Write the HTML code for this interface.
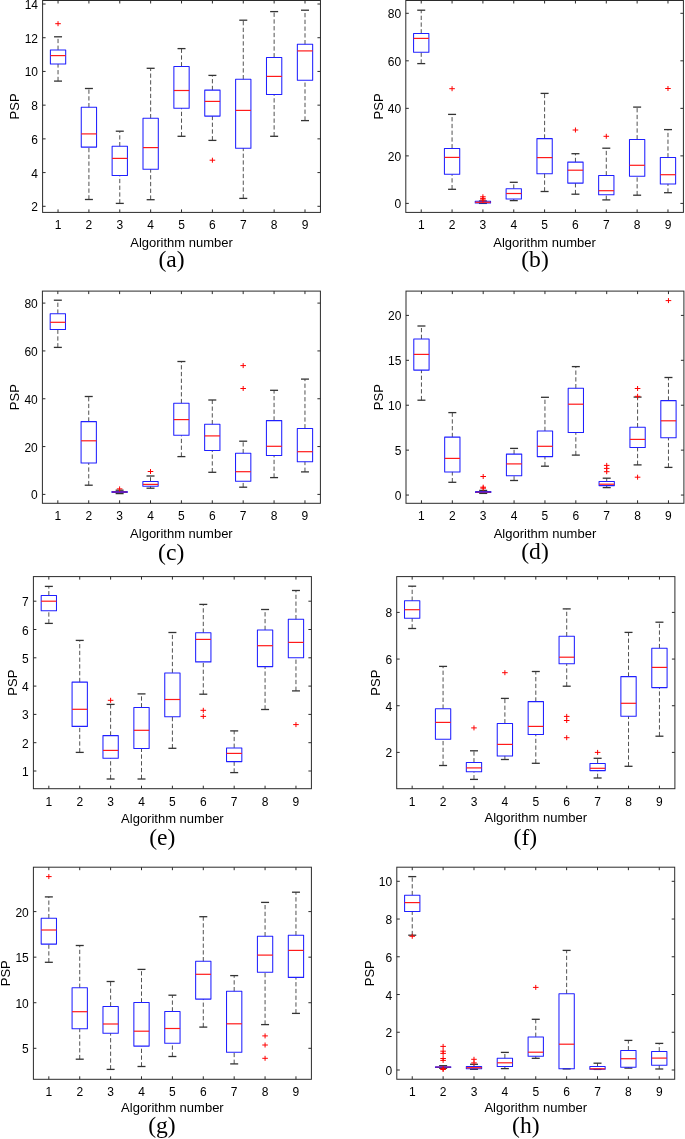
<!DOCTYPE html><html><head><meta charset="utf-8"><style>html,body{margin:0;padding:0;background:#fff;}svg{display:block;will-change:transform;}.t{font-family:"Liberation Sans",sans-serif;fill:#000;}.c{font-family:"Liberation Serif",serif;fill:#000;}</style></head><body>
<svg width="685" height="1139" viewBox="0 0 685 1139">
<rect x="0" y="0" width="685" height="1139" fill="#fff"/>
<g><line x1="58.04" y1="49.9" x2="58.04" y2="36.8" stroke="#525252" stroke-width="1.0" stroke-dasharray="4.3 2.45"/><line x1="58.04" y1="81.1" x2="58.04" y2="64" stroke="#525252" stroke-width="1.0" stroke-dasharray="4.3 2.45"/><line x1="54.04" y1="36.8" x2="62.04" y2="36.8" stroke="#333333" stroke-width="1.3"/><line x1="54.04" y1="81.1" x2="62.04" y2="81.1" stroke="#333333" stroke-width="1.3"/><rect x="50.39" y="49.9" width="15.3" height="14.1" fill="none" stroke="#2020ff" stroke-width="1.05" stroke-linejoin="round"/><line x1="50.39" y1="55.6" x2="65.69" y2="55.6" stroke="#ff1a1a" stroke-width="1.2"/><path d="M55.24 23.7H60.84M58.04 21.2V26.2" stroke="#ff0000" stroke-width="1.0"/><line x1="88.91" y1="107.3" x2="88.91" y2="88.5" stroke="#525252" stroke-width="1.0" stroke-dasharray="4.3 2.45"/><line x1="88.91" y1="199.5" x2="88.91" y2="147.1" stroke="#525252" stroke-width="1.0" stroke-dasharray="4.3 2.45"/><line x1="84.91" y1="88.5" x2="92.91" y2="88.5" stroke="#333333" stroke-width="1.3"/><line x1="84.91" y1="199.5" x2="92.91" y2="199.5" stroke="#333333" stroke-width="1.3"/><rect x="81.26" y="107.3" width="15.3" height="39.8" fill="none" stroke="#2020ff" stroke-width="1.05" stroke-linejoin="round"/><line x1="81.26" y1="133.9" x2="96.56" y2="133.9" stroke="#ff1a1a" stroke-width="1.2"/><line x1="119.78" y1="146.3" x2="119.78" y2="131.2" stroke="#525252" stroke-width="1.0" stroke-dasharray="4.3 2.45"/><line x1="119.78" y1="203.4" x2="119.78" y2="175.4" stroke="#525252" stroke-width="1.0" stroke-dasharray="4.3 2.45"/><line x1="115.78" y1="131.2" x2="123.78" y2="131.2" stroke="#333333" stroke-width="1.3"/><line x1="115.78" y1="203.4" x2="123.78" y2="203.4" stroke="#333333" stroke-width="1.3"/><rect x="112.13" y="146.3" width="15.3" height="29.1" fill="none" stroke="#2020ff" stroke-width="1.05" stroke-linejoin="round"/><line x1="112.13" y1="158.4" x2="127.43" y2="158.4" stroke="#ff1a1a" stroke-width="1.2"/><line x1="150.65" y1="118.3" x2="150.65" y2="68.3" stroke="#525252" stroke-width="1.0" stroke-dasharray="4.3 2.45"/><line x1="150.65" y1="199.7" x2="150.65" y2="169.2" stroke="#525252" stroke-width="1.0" stroke-dasharray="4.3 2.45"/><line x1="146.65" y1="68.3" x2="154.65" y2="68.3" stroke="#333333" stroke-width="1.3"/><line x1="146.65" y1="199.7" x2="154.65" y2="199.7" stroke="#333333" stroke-width="1.3"/><rect x="143" y="118.3" width="15.3" height="50.9" fill="none" stroke="#2020ff" stroke-width="1.05" stroke-linejoin="round"/><line x1="143" y1="147.6" x2="158.3" y2="147.6" stroke="#ff1a1a" stroke-width="1.2"/><line x1="181.52" y1="66.4" x2="181.52" y2="48.6" stroke="#525252" stroke-width="1.0" stroke-dasharray="4.3 2.45"/><line x1="181.52" y1="136.3" x2="181.52" y2="108.3" stroke="#525252" stroke-width="1.0" stroke-dasharray="4.3 2.45"/><line x1="177.52" y1="48.6" x2="185.52" y2="48.6" stroke="#333333" stroke-width="1.3"/><line x1="177.52" y1="136.3" x2="185.52" y2="136.3" stroke="#333333" stroke-width="1.3"/><rect x="173.87" y="66.4" width="15.3" height="41.9" fill="none" stroke="#2020ff" stroke-width="1.05" stroke-linejoin="round"/><line x1="173.87" y1="90.5" x2="189.17" y2="90.5" stroke="#ff1a1a" stroke-width="1.2"/><line x1="212.4" y1="90.1" x2="212.4" y2="75.4" stroke="#525252" stroke-width="1.0" stroke-dasharray="4.3 2.45"/><line x1="212.4" y1="140.4" x2="212.4" y2="116.1" stroke="#525252" stroke-width="1.0" stroke-dasharray="4.3 2.45"/><line x1="208.4" y1="75.4" x2="216.4" y2="75.4" stroke="#333333" stroke-width="1.3"/><line x1="208.4" y1="140.4" x2="216.4" y2="140.4" stroke="#333333" stroke-width="1.3"/><rect x="204.75" y="90.1" width="15.3" height="26" fill="none" stroke="#2020ff" stroke-width="1.05" stroke-linejoin="round"/><line x1="204.75" y1="101.4" x2="220.05" y2="101.4" stroke="#ff1a1a" stroke-width="1.2"/><path d="M209.6 160.2H215.2M212.4 157.7V162.7" stroke="#ff0000" stroke-width="1.0"/><line x1="243.27" y1="79.3" x2="243.27" y2="20.2" stroke="#525252" stroke-width="1.0" stroke-dasharray="4.3 2.45"/><line x1="243.27" y1="198.4" x2="243.27" y2="148.2" stroke="#525252" stroke-width="1.0" stroke-dasharray="4.3 2.45"/><line x1="239.27" y1="20.2" x2="247.27" y2="20.2" stroke="#333333" stroke-width="1.3"/><line x1="239.27" y1="198.4" x2="247.27" y2="198.4" stroke="#333333" stroke-width="1.3"/><rect x="235.62" y="79.3" width="15.3" height="68.9" fill="none" stroke="#2020ff" stroke-width="1.05" stroke-linejoin="round"/><line x1="235.62" y1="110.4" x2="250.92" y2="110.4" stroke="#ff1a1a" stroke-width="1.2"/><line x1="274.14" y1="57.4" x2="274.14" y2="11.6" stroke="#525252" stroke-width="1.0" stroke-dasharray="4.3 2.45"/><line x1="274.14" y1="136.3" x2="274.14" y2="94.4" stroke="#525252" stroke-width="1.0" stroke-dasharray="4.3 2.45"/><line x1="270.14" y1="11.6" x2="278.14" y2="11.6" stroke="#333333" stroke-width="1.3"/><line x1="270.14" y1="136.3" x2="278.14" y2="136.3" stroke="#333333" stroke-width="1.3"/><rect x="266.49" y="57.4" width="15.3" height="37" fill="none" stroke="#2020ff" stroke-width="1.05" stroke-linejoin="round"/><line x1="266.49" y1="76.4" x2="281.79" y2="76.4" stroke="#ff1a1a" stroke-width="1.2"/><line x1="305.01" y1="44.3" x2="305.01" y2="10.2" stroke="#525252" stroke-width="1.0" stroke-dasharray="4.3 2.45"/><line x1="305.01" y1="120.6" x2="305.01" y2="80.3" stroke="#525252" stroke-width="1.0" stroke-dasharray="4.3 2.45"/><line x1="301.01" y1="10.2" x2="309.01" y2="10.2" stroke="#333333" stroke-width="1.3"/><line x1="301.01" y1="120.6" x2="309.01" y2="120.6" stroke="#333333" stroke-width="1.3"/><rect x="297.36" y="44.3" width="15.3" height="36" fill="none" stroke="#2020ff" stroke-width="1.05" stroke-linejoin="round"/><line x1="297.36" y1="50.9" x2="312.66" y2="50.9" stroke="#ff1a1a" stroke-width="1.2"/><rect x="42.6" y="0.5" width="277.85" height="211.9" fill="none" stroke="#2b2b2b" stroke-width="1.0"/><path d="M58.04 212.4v-3.0M58.04 0.5v3.0M88.91 212.4v-3.0M88.91 0.5v3.0M119.78 212.4v-3.0M119.78 0.5v3.0M150.65 212.4v-3.0M150.65 0.5v3.0M181.52 212.4v-3.0M181.52 0.5v3.0M212.4 212.4v-3.0M212.4 0.5v3.0M243.27 212.4v-3.0M243.27 0.5v3.0M274.14 212.4v-3.0M274.14 0.5v3.0M305.01 212.4v-3.0M305.01 0.5v3.0M42.6 206.3h3.0M320.45 206.3h-3.0M42.6 172.58h3.0M320.45 172.58h-3.0M42.6 138.87h3.0M320.45 138.87h-3.0M42.6 105.15h3.0M320.45 105.15h-3.0M42.6 71.43h3.0M320.45 71.43h-3.0M42.6 37.72h3.0M320.45 37.72h-3.0M42.6 4h3.0M320.45 4h-3.0" stroke="#2b2b2b" stroke-width="1.0" fill="none"/><text class="t" x="58.04" y="229.3" font-size="12" text-anchor="middle">1</text><text class="t" x="88.91" y="229.3" font-size="12" text-anchor="middle">2</text><text class="t" x="119.78" y="229.3" font-size="12" text-anchor="middle">3</text><text class="t" x="150.65" y="229.3" font-size="12" text-anchor="middle">4</text><text class="t" x="181.52" y="229.3" font-size="12" text-anchor="middle">5</text><text class="t" x="212.4" y="229.3" font-size="12" text-anchor="middle">6</text><text class="t" x="243.27" y="229.3" font-size="12" text-anchor="middle">7</text><text class="t" x="274.14" y="229.3" font-size="12" text-anchor="middle">8</text><text class="t" x="305.01" y="229.3" font-size="12" text-anchor="middle">9</text><text class="t" x="38" y="211.3" font-size="12" text-anchor="end">2</text><text class="t" x="38" y="177.58" font-size="12" text-anchor="end">4</text><text class="t" x="38" y="143.87" font-size="12" text-anchor="end">6</text><text class="t" x="38" y="110.15" font-size="12" text-anchor="end">8</text><text class="t" x="38" y="76.43" font-size="12" text-anchor="end">10</text><text class="t" x="38" y="42.72" font-size="12" text-anchor="end">12</text><text class="t" x="38" y="9" font-size="12" text-anchor="end">14</text><text class="t" x="181.53" y="246.6" font-size="13" text-anchor="middle">Algorithm number</text><text class="t" transform="translate(19.1 106.45) rotate(-90)" x="0" y="0" font-size="13" text-anchor="middle">PSP</text><text class="c" x="171.5" y="267.34" font-size="23.6" text-anchor="middle">(a)</text></g>
<g><line x1="421.22" y1="33.5" x2="421.22" y2="10.2" stroke="#525252" stroke-width="1.0" stroke-dasharray="4.3 2.45"/><line x1="421.22" y1="63.6" x2="421.22" y2="52.3" stroke="#525252" stroke-width="1.0" stroke-dasharray="4.3 2.45"/><line x1="417.22" y1="10.2" x2="425.22" y2="10.2" stroke="#333333" stroke-width="1.3"/><line x1="417.22" y1="63.6" x2="425.22" y2="63.6" stroke="#333333" stroke-width="1.3"/><rect x="413.57" y="33.5" width="15.3" height="18.8" fill="none" stroke="#2020ff" stroke-width="1.05" stroke-linejoin="round"/><line x1="413.57" y1="38.4" x2="428.87" y2="38.4" stroke="#ff1a1a" stroke-width="1.2"/><line x1="452.07" y1="148.4" x2="452.07" y2="114.4" stroke="#525252" stroke-width="1.0" stroke-dasharray="4.3 2.45"/><line x1="452.07" y1="189.3" x2="452.07" y2="174.3" stroke="#525252" stroke-width="1.0" stroke-dasharray="4.3 2.45"/><line x1="448.07" y1="114.4" x2="456.07" y2="114.4" stroke="#333333" stroke-width="1.3"/><line x1="448.07" y1="189.3" x2="456.07" y2="189.3" stroke="#333333" stroke-width="1.3"/><rect x="444.42" y="148.4" width="15.3" height="25.9" fill="none" stroke="#2020ff" stroke-width="1.05" stroke-linejoin="round"/><line x1="444.42" y1="157.4" x2="459.72" y2="157.4" stroke="#ff1a1a" stroke-width="1.2"/><path d="M449.27 88.7H454.87M452.07 86.2V91.2" stroke="#ff0000" stroke-width="1.0"/><line x1="478.91" y1="201" x2="486.91" y2="201" stroke="#333333" stroke-width="1.3"/><line x1="478.91" y1="203.4" x2="486.91" y2="203.4" stroke="#333333" stroke-width="1.3"/><rect x="475.26" y="201.2" width="15.3" height="1.8" fill="none" stroke="#2020ff" stroke-width="1.05" stroke-linejoin="round"/><line x1="475.26" y1="202.3" x2="490.56" y2="202.3" stroke="#ff1a1a" stroke-width="1.2"/><path d="M480.11 196.8H485.71M482.91 194.3V199.3" stroke="#ff0000" stroke-width="1.0"/><path d="M480.11 198.6H485.71M482.91 196.1V201.1" stroke="#ff0000" stroke-width="1.0"/><path d="M480.11 200H485.71M482.91 197.5V202.5" stroke="#ff0000" stroke-width="1.0"/><line x1="513.76" y1="188.7" x2="513.76" y2="182.3" stroke="#525252" stroke-width="1.0" stroke-dasharray="4.3 2.45"/><line x1="513.76" y1="200.6" x2="513.76" y2="199" stroke="#525252" stroke-width="1.0" stroke-dasharray="4.3 2.45"/><line x1="509.76" y1="182.3" x2="517.76" y2="182.3" stroke="#333333" stroke-width="1.3"/><line x1="509.76" y1="200.6" x2="517.76" y2="200.6" stroke="#333333" stroke-width="1.3"/><rect x="506.11" y="188.7" width="15.3" height="10.3" fill="none" stroke="#2020ff" stroke-width="1.05" stroke-linejoin="round"/><line x1="506.11" y1="193.5" x2="521.41" y2="193.5" stroke="#ff1a1a" stroke-width="1.2"/><line x1="544.6" y1="138.6" x2="544.6" y2="93.4" stroke="#525252" stroke-width="1.0" stroke-dasharray="4.3 2.45"/><line x1="544.6" y1="191.5" x2="544.6" y2="173.7" stroke="#525252" stroke-width="1.0" stroke-dasharray="4.3 2.45"/><line x1="540.6" y1="93.4" x2="548.6" y2="93.4" stroke="#333333" stroke-width="1.3"/><line x1="540.6" y1="191.5" x2="548.6" y2="191.5" stroke="#333333" stroke-width="1.3"/><rect x="536.95" y="138.6" width="15.3" height="35.1" fill="none" stroke="#2020ff" stroke-width="1.05" stroke-linejoin="round"/><line x1="536.95" y1="157.6" x2="552.25" y2="157.6" stroke="#ff1a1a" stroke-width="1.2"/><line x1="575.44" y1="162.1" x2="575.44" y2="153.7" stroke="#525252" stroke-width="1.0" stroke-dasharray="4.3 2.45"/><line x1="575.44" y1="194.2" x2="575.44" y2="183.1" stroke="#525252" stroke-width="1.0" stroke-dasharray="4.3 2.45"/><line x1="571.44" y1="153.7" x2="579.44" y2="153.7" stroke="#333333" stroke-width="1.3"/><line x1="571.44" y1="194.2" x2="579.44" y2="194.2" stroke="#333333" stroke-width="1.3"/><rect x="567.79" y="162.1" width="15.3" height="21" fill="none" stroke="#2020ff" stroke-width="1.05" stroke-linejoin="round"/><line x1="567.79" y1="170.2" x2="583.09" y2="170.2" stroke="#ff1a1a" stroke-width="1.2"/><path d="M572.64 130H578.24M575.44 127.5V132.5" stroke="#ff0000" stroke-width="1.0"/><line x1="606.29" y1="175.4" x2="606.29" y2="148.2" stroke="#525252" stroke-width="1.0" stroke-dasharray="4.3 2.45"/><line x1="606.29" y1="199.9" x2="606.29" y2="194.8" stroke="#525252" stroke-width="1.0" stroke-dasharray="4.3 2.45"/><line x1="602.29" y1="148.2" x2="610.29" y2="148.2" stroke="#333333" stroke-width="1.3"/><line x1="602.29" y1="199.9" x2="610.29" y2="199.9" stroke="#333333" stroke-width="1.3"/><rect x="598.64" y="175.4" width="15.3" height="19.4" fill="none" stroke="#2020ff" stroke-width="1.05" stroke-linejoin="round"/><line x1="598.64" y1="190.7" x2="613.94" y2="190.7" stroke="#ff1a1a" stroke-width="1.2"/><path d="M603.49 136.3H609.09M606.29 133.8V138.8" stroke="#ff0000" stroke-width="1.0"/><line x1="637.13" y1="139.4" x2="637.13" y2="107.1" stroke="#525252" stroke-width="1.0" stroke-dasharray="4.3 2.45"/><line x1="637.13" y1="195.2" x2="637.13" y2="176.2" stroke="#525252" stroke-width="1.0" stroke-dasharray="4.3 2.45"/><line x1="633.13" y1="107.1" x2="641.13" y2="107.1" stroke="#333333" stroke-width="1.3"/><line x1="633.13" y1="195.2" x2="641.13" y2="195.2" stroke="#333333" stroke-width="1.3"/><rect x="629.48" y="139.4" width="15.3" height="36.8" fill="none" stroke="#2020ff" stroke-width="1.05" stroke-linejoin="round"/><line x1="629.48" y1="165.3" x2="644.78" y2="165.3" stroke="#ff1a1a" stroke-width="1.2"/><line x1="667.98" y1="157.4" x2="667.98" y2="129.6" stroke="#525252" stroke-width="1.0" stroke-dasharray="4.3 2.45"/><line x1="667.98" y1="192.7" x2="667.98" y2="183.9" stroke="#525252" stroke-width="1.0" stroke-dasharray="4.3 2.45"/><line x1="663.98" y1="129.6" x2="671.98" y2="129.6" stroke="#333333" stroke-width="1.3"/><line x1="663.98" y1="192.7" x2="671.98" y2="192.7" stroke="#333333" stroke-width="1.3"/><rect x="660.33" y="157.4" width="15.3" height="26.5" fill="none" stroke="#2020ff" stroke-width="1.05" stroke-linejoin="round"/><line x1="660.33" y1="174.7" x2="675.63" y2="174.7" stroke="#ff1a1a" stroke-width="1.2"/><path d="M665.18 88.5H670.78M667.98 86V91" stroke="#ff0000" stroke-width="1.0"/><rect x="405.8" y="0.5" width="277.6" height="211.9" fill="none" stroke="#2b2b2b" stroke-width="1.0"/><path d="M421.22 212.4v-3.0M421.22 0.5v3.0M452.07 212.4v-3.0M452.07 0.5v3.0M482.91 212.4v-3.0M482.91 0.5v3.0M513.76 212.4v-3.0M513.76 0.5v3.0M544.6 212.4v-3.0M544.6 0.5v3.0M575.44 212.4v-3.0M575.44 0.5v3.0M606.29 212.4v-3.0M606.29 0.5v3.0M637.13 212.4v-3.0M637.13 0.5v3.0M667.98 212.4v-3.0M667.98 0.5v3.0M405.8 203.4h3.0M683.4 203.4h-3.0M405.8 155.88h3.0M683.4 155.88h-3.0M405.8 108.35h3.0M683.4 108.35h-3.0M405.8 60.82h3.0M683.4 60.82h-3.0M405.8 13.3h3.0M683.4 13.3h-3.0" stroke="#2b2b2b" stroke-width="1.0" fill="none"/><text class="t" x="421.22" y="229.3" font-size="12" text-anchor="middle">1</text><text class="t" x="452.07" y="229.3" font-size="12" text-anchor="middle">2</text><text class="t" x="482.91" y="229.3" font-size="12" text-anchor="middle">3</text><text class="t" x="513.76" y="229.3" font-size="12" text-anchor="middle">4</text><text class="t" x="544.6" y="229.3" font-size="12" text-anchor="middle">5</text><text class="t" x="575.44" y="229.3" font-size="12" text-anchor="middle">6</text><text class="t" x="606.29" y="229.3" font-size="12" text-anchor="middle">7</text><text class="t" x="637.13" y="229.3" font-size="12" text-anchor="middle">8</text><text class="t" x="667.98" y="229.3" font-size="12" text-anchor="middle">9</text><text class="t" x="401.2" y="208.4" font-size="12" text-anchor="end">0</text><text class="t" x="401.2" y="160.88" font-size="12" text-anchor="end">20</text><text class="t" x="401.2" y="113.35" font-size="12" text-anchor="end">40</text><text class="t" x="401.2" y="65.82" font-size="12" text-anchor="end">60</text><text class="t" x="401.2" y="18.3" font-size="12" text-anchor="end">80</text><text class="t" x="544.6" y="246.6" font-size="13" text-anchor="middle">Algorithm number</text><text class="t" transform="translate(383 106.45) rotate(-90)" x="0" y="0" font-size="13" text-anchor="middle">PSP</text><text class="c" x="535" y="266.84" font-size="23.6" text-anchor="middle">(b)</text></g>
<g><line x1="57.84" y1="313.7" x2="57.84" y2="300.2" stroke="#525252" stroke-width="1.0" stroke-dasharray="4.3 2.45"/><line x1="57.84" y1="347.4" x2="57.84" y2="329.4" stroke="#525252" stroke-width="1.0" stroke-dasharray="4.3 2.45"/><line x1="53.84" y1="300.2" x2="61.84" y2="300.2" stroke="#333333" stroke-width="1.3"/><line x1="53.84" y1="347.4" x2="61.84" y2="347.4" stroke="#333333" stroke-width="1.3"/><rect x="50.19" y="313.7" width="15.3" height="15.7" fill="none" stroke="#2020ff" stroke-width="1.05" stroke-linejoin="round"/><line x1="50.19" y1="322.3" x2="65.49" y2="322.3" stroke="#ff1a1a" stroke-width="1.2"/><line x1="88.73" y1="421.6" x2="88.73" y2="396.5" stroke="#525252" stroke-width="1.0" stroke-dasharray="4.3 2.45"/><line x1="88.73" y1="485.2" x2="88.73" y2="462.9" stroke="#525252" stroke-width="1.0" stroke-dasharray="4.3 2.45"/><line x1="84.73" y1="396.5" x2="92.73" y2="396.5" stroke="#333333" stroke-width="1.3"/><line x1="84.73" y1="485.2" x2="92.73" y2="485.2" stroke="#333333" stroke-width="1.3"/><rect x="81.08" y="421.6" width="15.3" height="41.3" fill="none" stroke="#2020ff" stroke-width="1.05" stroke-linejoin="round"/><line x1="81.08" y1="440.8" x2="96.38" y2="440.8" stroke="#ff1a1a" stroke-width="1.2"/><line x1="119.62" y1="491.4" x2="119.62" y2="490.2" stroke="#525252" stroke-width="1.0" stroke-dasharray="4.3 2.45"/><line x1="119.62" y1="493.6" x2="119.62" y2="492.4" stroke="#525252" stroke-width="1.0" stroke-dasharray="4.3 2.45"/><line x1="115.62" y1="490.2" x2="123.62" y2="490.2" stroke="#333333" stroke-width="1.3"/><line x1="115.62" y1="493.6" x2="123.62" y2="493.6" stroke="#333333" stroke-width="1.3"/><rect x="111.97" y="491.4" width="15.3" height="1" fill="none" stroke="#2020ff" stroke-width="1.05" stroke-linejoin="round"/><line x1="111.97" y1="492" x2="127.27" y2="492" stroke="#ff1a1a" stroke-width="1.2" stroke-opacity="0.5"/><path d="M116.82 488.9H122.42M119.62 486.4V491.4" stroke="#ff0000" stroke-width="1.0"/><line x1="150.51" y1="481.5" x2="150.51" y2="476" stroke="#525252" stroke-width="1.0" stroke-dasharray="4.3 2.45"/><line x1="150.51" y1="488.2" x2="150.51" y2="486.2" stroke="#525252" stroke-width="1.0" stroke-dasharray="4.3 2.45"/><line x1="146.51" y1="476" x2="154.51" y2="476" stroke="#333333" stroke-width="1.3"/><line x1="146.51" y1="488.2" x2="154.51" y2="488.2" stroke="#333333" stroke-width="1.3"/><rect x="142.86" y="481.5" width="15.3" height="4.7" fill="none" stroke="#2020ff" stroke-width="1.05" stroke-linejoin="round"/><line x1="142.86" y1="484.4" x2="158.16" y2="484.4" stroke="#ff1a1a" stroke-width="1.2"/><path d="M147.71 471.5H153.31M150.51 469V474" stroke="#ff0000" stroke-width="1.0"/><line x1="181.4" y1="403.2" x2="181.4" y2="361.5" stroke="#525252" stroke-width="1.0" stroke-dasharray="4.3 2.45"/><line x1="181.4" y1="456.6" x2="181.4" y2="435.3" stroke="#525252" stroke-width="1.0" stroke-dasharray="4.3 2.45"/><line x1="177.4" y1="361.5" x2="185.4" y2="361.5" stroke="#333333" stroke-width="1.3"/><line x1="177.4" y1="456.6" x2="185.4" y2="456.6" stroke="#333333" stroke-width="1.3"/><rect x="173.75" y="403.2" width="15.3" height="32.1" fill="none" stroke="#2020ff" stroke-width="1.05" stroke-linejoin="round"/><line x1="173.75" y1="419.6" x2="189.05" y2="419.6" stroke="#ff1a1a" stroke-width="1.2"/><line x1="212.29" y1="424.3" x2="212.29" y2="400" stroke="#525252" stroke-width="1.0" stroke-dasharray="4.3 2.45"/><line x1="212.29" y1="472.3" x2="212.29" y2="450.6" stroke="#525252" stroke-width="1.0" stroke-dasharray="4.3 2.45"/><line x1="208.29" y1="400" x2="216.29" y2="400" stroke="#333333" stroke-width="1.3"/><line x1="208.29" y1="472.3" x2="216.29" y2="472.3" stroke="#333333" stroke-width="1.3"/><rect x="204.64" y="424.3" width="15.3" height="26.3" fill="none" stroke="#2020ff" stroke-width="1.05" stroke-linejoin="round"/><line x1="204.64" y1="435.9" x2="219.94" y2="435.9" stroke="#ff1a1a" stroke-width="1.2"/><line x1="243.18" y1="453.3" x2="243.18" y2="441.2" stroke="#525252" stroke-width="1.0" stroke-dasharray="4.3 2.45"/><line x1="243.18" y1="487.2" x2="243.18" y2="481.3" stroke="#525252" stroke-width="1.0" stroke-dasharray="4.3 2.45"/><line x1="239.18" y1="441.2" x2="247.18" y2="441.2" stroke="#333333" stroke-width="1.3"/><line x1="239.18" y1="487.2" x2="247.18" y2="487.2" stroke="#333333" stroke-width="1.3"/><rect x="235.53" y="453.3" width="15.3" height="28" fill="none" stroke="#2020ff" stroke-width="1.05" stroke-linejoin="round"/><line x1="235.53" y1="471.7" x2="250.83" y2="471.7" stroke="#ff1a1a" stroke-width="1.2"/><path d="M240.38 365.6H245.98M243.18 363.1V368.1" stroke="#ff0000" stroke-width="1.0"/><path d="M240.38 388.5H245.98M243.18 386V391" stroke="#ff0000" stroke-width="1.0"/><line x1="274.07" y1="420.6" x2="274.07" y2="390.3" stroke="#525252" stroke-width="1.0" stroke-dasharray="4.3 2.45"/><line x1="274.07" y1="477.6" x2="274.07" y2="455.5" stroke="#525252" stroke-width="1.0" stroke-dasharray="4.3 2.45"/><line x1="270.07" y1="390.3" x2="278.07" y2="390.3" stroke="#333333" stroke-width="1.3"/><line x1="270.07" y1="477.6" x2="278.07" y2="477.6" stroke="#333333" stroke-width="1.3"/><rect x="266.42" y="420.6" width="15.3" height="34.9" fill="none" stroke="#2020ff" stroke-width="1.05" stroke-linejoin="round"/><line x1="266.42" y1="446.3" x2="281.72" y2="446.3" stroke="#ff1a1a" stroke-width="1.2"/><line x1="304.96" y1="428.4" x2="304.96" y2="379.1" stroke="#525252" stroke-width="1.0" stroke-dasharray="4.3 2.45"/><line x1="304.96" y1="471.9" x2="304.96" y2="461.7" stroke="#525252" stroke-width="1.0" stroke-dasharray="4.3 2.45"/><line x1="300.96" y1="379.1" x2="308.96" y2="379.1" stroke="#333333" stroke-width="1.3"/><line x1="300.96" y1="471.9" x2="308.96" y2="471.9" stroke="#333333" stroke-width="1.3"/><rect x="297.31" y="428.4" width="15.3" height="33.3" fill="none" stroke="#2020ff" stroke-width="1.05" stroke-linejoin="round"/><line x1="297.31" y1="451.7" x2="312.61" y2="451.7" stroke="#ff1a1a" stroke-width="1.2"/><rect x="42.4" y="291.1" width="278" height="212.2" fill="none" stroke="#2b2b2b" stroke-width="1.0"/><path d="M57.84 503.3v-3.0M57.84 291.1v3.0M88.73 503.3v-3.0M88.73 291.1v3.0M119.62 503.3v-3.0M119.62 291.1v3.0M150.51 503.3v-3.0M150.51 291.1v3.0M181.4 503.3v-3.0M181.4 291.1v3.0M212.29 503.3v-3.0M212.29 291.1v3.0M243.18 503.3v-3.0M243.18 291.1v3.0M274.07 503.3v-3.0M274.07 291.1v3.0M304.96 503.3v-3.0M304.96 291.1v3.0M42.4 494.4h3.0M320.4 494.4h-3.0M42.4 446.57h3.0M320.4 446.57h-3.0M42.4 398.75h3.0M320.4 398.75h-3.0M42.4 350.93h3.0M320.4 350.93h-3.0M42.4 303.1h3.0M320.4 303.1h-3.0" stroke="#2b2b2b" stroke-width="1.0" fill="none"/><text class="t" x="57.84" y="520.2" font-size="12" text-anchor="middle">1</text><text class="t" x="88.73" y="520.2" font-size="12" text-anchor="middle">2</text><text class="t" x="119.62" y="520.2" font-size="12" text-anchor="middle">3</text><text class="t" x="150.51" y="520.2" font-size="12" text-anchor="middle">4</text><text class="t" x="181.4" y="520.2" font-size="12" text-anchor="middle">5</text><text class="t" x="212.29" y="520.2" font-size="12" text-anchor="middle">6</text><text class="t" x="243.18" y="520.2" font-size="12" text-anchor="middle">7</text><text class="t" x="274.07" y="520.2" font-size="12" text-anchor="middle">8</text><text class="t" x="304.96" y="520.2" font-size="12" text-anchor="middle">9</text><text class="t" x="37.8" y="499.4" font-size="12" text-anchor="end">0</text><text class="t" x="37.8" y="451.57" font-size="12" text-anchor="end">20</text><text class="t" x="37.8" y="403.75" font-size="12" text-anchor="end">40</text><text class="t" x="37.8" y="355.93" font-size="12" text-anchor="end">60</text><text class="t" x="37.8" y="308.1" font-size="12" text-anchor="end">80</text><text class="t" x="181.4" y="537.5" font-size="13" text-anchor="middle">Algorithm number</text><text class="t" transform="translate(19.1 397.2) rotate(-90)" x="0" y="0" font-size="13" text-anchor="middle">PSP</text><text class="c" x="171.2" y="560.44" font-size="23.6" text-anchor="middle">(c)</text></g>
<g><line x1="421.44" y1="339" x2="421.44" y2="326" stroke="#525252" stroke-width="1.0" stroke-dasharray="4.3 2.45"/><line x1="421.44" y1="400.2" x2="421.44" y2="370.1" stroke="#525252" stroke-width="1.0" stroke-dasharray="4.3 2.45"/><line x1="417.44" y1="326" x2="425.44" y2="326" stroke="#333333" stroke-width="1.3"/><line x1="417.44" y1="400.2" x2="425.44" y2="400.2" stroke="#333333" stroke-width="1.3"/><rect x="413.79" y="339" width="15.3" height="31.1" fill="none" stroke="#2020ff" stroke-width="1.05" stroke-linejoin="round"/><line x1="413.79" y1="354.4" x2="429.09" y2="354.4" stroke="#ff1a1a" stroke-width="1.2"/><line x1="452.32" y1="437.1" x2="452.32" y2="412.6" stroke="#525252" stroke-width="1.0" stroke-dasharray="4.3 2.45"/><line x1="452.32" y1="482.3" x2="452.32" y2="471.9" stroke="#525252" stroke-width="1.0" stroke-dasharray="4.3 2.45"/><line x1="448.32" y1="412.6" x2="456.32" y2="412.6" stroke="#333333" stroke-width="1.3"/><line x1="448.32" y1="482.3" x2="456.32" y2="482.3" stroke="#333333" stroke-width="1.3"/><rect x="444.67" y="437.1" width="15.3" height="34.8" fill="none" stroke="#2020ff" stroke-width="1.05" stroke-linejoin="round"/><line x1="444.67" y1="458.4" x2="459.97" y2="458.4" stroke="#ff1a1a" stroke-width="1.2"/><line x1="483.19" y1="491.4" x2="483.19" y2="490.4" stroke="#525252" stroke-width="1.0" stroke-dasharray="4.3 2.45"/><line x1="483.19" y1="493.4" x2="483.19" y2="492.4" stroke="#525252" stroke-width="1.0" stroke-dasharray="4.3 2.45"/><line x1="479.19" y1="490.4" x2="487.19" y2="490.4" stroke="#333333" stroke-width="1.3"/><line x1="479.19" y1="493.4" x2="487.19" y2="493.4" stroke="#333333" stroke-width="1.3"/><rect x="475.54" y="491.4" width="15.3" height="1" fill="none" stroke="#2020ff" stroke-width="1.05" stroke-linejoin="round"/><line x1="475.54" y1="492.2" x2="490.84" y2="492.2" stroke="#ff1a1a" stroke-width="1.2" stroke-opacity="0.5"/><path d="M480.39 476.5H485.99M483.19 474V479" stroke="#ff0000" stroke-width="1.0"/><path d="M480.39 487.2H485.99M483.19 484.7V489.7" stroke="#ff0000" stroke-width="1.0"/><path d="M480.39 488.2H485.99M483.19 485.7V490.7" stroke="#ff0000" stroke-width="1.0"/><line x1="514.07" y1="454.1" x2="514.07" y2="448.4" stroke="#525252" stroke-width="1.0" stroke-dasharray="4.3 2.45"/><line x1="514.07" y1="480.5" x2="514.07" y2="475.8" stroke="#525252" stroke-width="1.0" stroke-dasharray="4.3 2.45"/><line x1="510.07" y1="448.4" x2="518.07" y2="448.4" stroke="#333333" stroke-width="1.3"/><line x1="510.07" y1="480.5" x2="518.07" y2="480.5" stroke="#333333" stroke-width="1.3"/><rect x="506.42" y="454.1" width="15.3" height="21.7" fill="none" stroke="#2020ff" stroke-width="1.05" stroke-linejoin="round"/><line x1="506.42" y1="463.9" x2="521.72" y2="463.9" stroke="#ff1a1a" stroke-width="1.2"/><line x1="544.95" y1="431" x2="544.95" y2="397.3" stroke="#525252" stroke-width="1.0" stroke-dasharray="4.3 2.45"/><line x1="544.95" y1="466.2" x2="544.95" y2="456.6" stroke="#525252" stroke-width="1.0" stroke-dasharray="4.3 2.45"/><line x1="540.95" y1="397.3" x2="548.95" y2="397.3" stroke="#333333" stroke-width="1.3"/><line x1="540.95" y1="466.2" x2="548.95" y2="466.2" stroke="#333333" stroke-width="1.3"/><rect x="537.3" y="431" width="15.3" height="25.6" fill="none" stroke="#2020ff" stroke-width="1.05" stroke-linejoin="round"/><line x1="537.3" y1="446.3" x2="552.6" y2="446.3" stroke="#ff1a1a" stroke-width="1.2"/><line x1="575.83" y1="388.3" x2="575.83" y2="366.6" stroke="#525252" stroke-width="1.0" stroke-dasharray="4.3 2.45"/><line x1="575.83" y1="455.1" x2="575.83" y2="432.4" stroke="#525252" stroke-width="1.0" stroke-dasharray="4.3 2.45"/><line x1="571.83" y1="366.6" x2="579.83" y2="366.6" stroke="#333333" stroke-width="1.3"/><line x1="571.83" y1="455.1" x2="579.83" y2="455.1" stroke="#333333" stroke-width="1.3"/><rect x="568.18" y="388.3" width="15.3" height="44.1" fill="none" stroke="#2020ff" stroke-width="1.05" stroke-linejoin="round"/><line x1="568.18" y1="404.2" x2="583.48" y2="404.2" stroke="#ff1a1a" stroke-width="1.2"/><line x1="606.71" y1="481.5" x2="606.71" y2="478.2" stroke="#525252" stroke-width="1.0" stroke-dasharray="4.3 2.45"/><line x1="606.71" y1="487.6" x2="606.71" y2="485.6" stroke="#525252" stroke-width="1.0" stroke-dasharray="4.3 2.45"/><line x1="602.71" y1="478.2" x2="610.71" y2="478.2" stroke="#333333" stroke-width="1.3"/><line x1="602.71" y1="487.6" x2="610.71" y2="487.6" stroke="#333333" stroke-width="1.3"/><rect x="599.06" y="481.5" width="15.3" height="4.1" fill="none" stroke="#2020ff" stroke-width="1.05" stroke-linejoin="round"/><line x1="599.06" y1="484.2" x2="614.36" y2="484.2" stroke="#ff1a1a" stroke-width="1.2"/><path d="M603.91 465.4H609.51M606.71 462.9V467.9" stroke="#ff0000" stroke-width="1.0"/><path d="M603.91 468.4H609.51M606.71 465.9V470.9" stroke="#ff0000" stroke-width="1.0"/><path d="M603.91 471.7H609.51M606.71 469.2V474.2" stroke="#ff0000" stroke-width="1.0"/><line x1="637.58" y1="427.3" x2="637.58" y2="397.1" stroke="#525252" stroke-width="1.0" stroke-dasharray="4.3 2.45"/><line x1="637.58" y1="464.9" x2="637.58" y2="447.4" stroke="#525252" stroke-width="1.0" stroke-dasharray="4.3 2.45"/><line x1="633.58" y1="397.1" x2="641.58" y2="397.1" stroke="#333333" stroke-width="1.3"/><line x1="633.58" y1="464.9" x2="641.58" y2="464.9" stroke="#333333" stroke-width="1.3"/><rect x="629.93" y="427.3" width="15.3" height="20.1" fill="none" stroke="#2020ff" stroke-width="1.05" stroke-linejoin="round"/><line x1="629.93" y1="439.4" x2="645.23" y2="439.4" stroke="#ff1a1a" stroke-width="1.2"/><path d="M634.78 388.5H640.38M637.58 386V391" stroke="#ff0000" stroke-width="1.0"/><path d="M634.78 396.3H640.38M637.58 393.8V398.8" stroke="#ff0000" stroke-width="1.0"/><path d="M634.78 477.2H640.38M637.58 474.7V479.7" stroke="#ff0000" stroke-width="1.0"/><line x1="668.46" y1="400.6" x2="668.46" y2="377.5" stroke="#525252" stroke-width="1.0" stroke-dasharray="4.3 2.45"/><line x1="668.46" y1="467.4" x2="668.46" y2="437.8" stroke="#525252" stroke-width="1.0" stroke-dasharray="4.3 2.45"/><line x1="664.46" y1="377.5" x2="672.46" y2="377.5" stroke="#333333" stroke-width="1.3"/><line x1="664.46" y1="467.4" x2="672.46" y2="467.4" stroke="#333333" stroke-width="1.3"/><rect x="660.81" y="400.6" width="15.3" height="37.2" fill="none" stroke="#2020ff" stroke-width="1.05" stroke-linejoin="round"/><line x1="660.81" y1="420.8" x2="676.11" y2="420.8" stroke="#ff1a1a" stroke-width="1.2"/><path d="M665.66 300.6H671.26M668.46 298.1V303.1" stroke="#ff0000" stroke-width="1.0"/><rect x="406" y="291.1" width="277.9" height="212.2" fill="none" stroke="#2b2b2b" stroke-width="1.0"/><path d="M421.44 503.3v-3.0M421.44 291.1v3.0M452.32 503.3v-3.0M452.32 291.1v3.0M483.19 503.3v-3.0M483.19 291.1v3.0M514.07 503.3v-3.0M514.07 291.1v3.0M544.95 503.3v-3.0M544.95 291.1v3.0M575.83 503.3v-3.0M575.83 291.1v3.0M606.71 503.3v-3.0M606.71 291.1v3.0M637.58 503.3v-3.0M637.58 291.1v3.0M668.46 503.3v-3.0M668.46 291.1v3.0M406 495.05h3.0M683.9 495.05h-3.0M406 450.14h3.0M683.9 450.14h-3.0M406 405.23h3.0M683.9 405.23h-3.0M406 360.31h3.0M683.9 360.31h-3.0M406 315.4h3.0M683.9 315.4h-3.0" stroke="#2b2b2b" stroke-width="1.0" fill="none"/><text class="t" x="421.44" y="520.2" font-size="12" text-anchor="middle">1</text><text class="t" x="452.32" y="520.2" font-size="12" text-anchor="middle">2</text><text class="t" x="483.19" y="520.2" font-size="12" text-anchor="middle">3</text><text class="t" x="514.07" y="520.2" font-size="12" text-anchor="middle">4</text><text class="t" x="544.95" y="520.2" font-size="12" text-anchor="middle">5</text><text class="t" x="575.83" y="520.2" font-size="12" text-anchor="middle">6</text><text class="t" x="606.71" y="520.2" font-size="12" text-anchor="middle">7</text><text class="t" x="637.58" y="520.2" font-size="12" text-anchor="middle">8</text><text class="t" x="668.46" y="520.2" font-size="12" text-anchor="middle">9</text><text class="t" x="401.4" y="500.05" font-size="12" text-anchor="end">0</text><text class="t" x="401.4" y="455.14" font-size="12" text-anchor="end">5</text><text class="t" x="401.4" y="410.23" font-size="12" text-anchor="end">10</text><text class="t" x="401.4" y="365.31" font-size="12" text-anchor="end">15</text><text class="t" x="401.4" y="320.4" font-size="12" text-anchor="end">20</text><text class="t" x="544.95" y="537.5" font-size="13" text-anchor="middle">Algorithm number</text><text class="t" transform="translate(383 397.2) rotate(-90)" x="0" y="0" font-size="13" text-anchor="middle">PSP</text><text class="c" x="535" y="558.94" font-size="23.6" text-anchor="middle">(d)</text></g>
<g><line x1="48.84" y1="595.4" x2="48.84" y2="586.4" stroke="#525252" stroke-width="1.0" stroke-dasharray="4.3 2.45"/><line x1="48.84" y1="623.4" x2="48.84" y2="610.8" stroke="#525252" stroke-width="1.0" stroke-dasharray="4.3 2.45"/><line x1="44.84" y1="586.4" x2="52.84" y2="586.4" stroke="#333333" stroke-width="1.3"/><line x1="44.84" y1="623.4" x2="52.84" y2="623.4" stroke="#333333" stroke-width="1.3"/><rect x="41.19" y="595.4" width="15.3" height="15.4" fill="none" stroke="#2020ff" stroke-width="1.05" stroke-linejoin="round"/><line x1="41.19" y1="601.2" x2="56.49" y2="601.2" stroke="#ff1a1a" stroke-width="1.2"/><line x1="79.73" y1="682.1" x2="79.73" y2="640.4" stroke="#525252" stroke-width="1.0" stroke-dasharray="4.3 2.45"/><line x1="79.73" y1="752.4" x2="79.73" y2="726.4" stroke="#525252" stroke-width="1.0" stroke-dasharray="4.3 2.45"/><line x1="75.73" y1="640.4" x2="83.73" y2="640.4" stroke="#333333" stroke-width="1.3"/><line x1="75.73" y1="752.4" x2="83.73" y2="752.4" stroke="#333333" stroke-width="1.3"/><rect x="72.08" y="682.1" width="15.3" height="44.3" fill="none" stroke="#2020ff" stroke-width="1.05" stroke-linejoin="round"/><line x1="72.08" y1="709.3" x2="87.38" y2="709.3" stroke="#ff1a1a" stroke-width="1.2"/><line x1="110.62" y1="735.6" x2="110.62" y2="704.4" stroke="#525252" stroke-width="1.0" stroke-dasharray="4.3 2.45"/><line x1="110.62" y1="779" x2="110.62" y2="758.3" stroke="#525252" stroke-width="1.0" stroke-dasharray="4.3 2.45"/><line x1="106.62" y1="704.4" x2="114.62" y2="704.4" stroke="#333333" stroke-width="1.3"/><line x1="106.62" y1="779" x2="114.62" y2="779" stroke="#333333" stroke-width="1.3"/><rect x="102.97" y="735.6" width="15.3" height="22.7" fill="none" stroke="#2020ff" stroke-width="1.05" stroke-linejoin="round"/><line x1="102.97" y1="750.4" x2="118.27" y2="750.4" stroke="#ff1a1a" stroke-width="1.2"/><path d="M107.82 700.3H113.42M110.62 697.8V702.8" stroke="#ff0000" stroke-width="1.0"/><line x1="141.51" y1="707.4" x2="141.51" y2="693.9" stroke="#525252" stroke-width="1.0" stroke-dasharray="4.3 2.45"/><line x1="141.51" y1="779" x2="141.51" y2="748.5" stroke="#525252" stroke-width="1.0" stroke-dasharray="4.3 2.45"/><line x1="137.51" y1="693.9" x2="145.51" y2="693.9" stroke="#333333" stroke-width="1.3"/><line x1="137.51" y1="779" x2="145.51" y2="779" stroke="#333333" stroke-width="1.3"/><rect x="133.86" y="707.4" width="15.3" height="41.1" fill="none" stroke="#2020ff" stroke-width="1.05" stroke-linejoin="round"/><line x1="133.86" y1="730.3" x2="149.16" y2="730.3" stroke="#ff1a1a" stroke-width="1.2"/><line x1="172.4" y1="672.9" x2="172.4" y2="632.5" stroke="#525252" stroke-width="1.0" stroke-dasharray="4.3 2.45"/><line x1="172.4" y1="748.3" x2="172.4" y2="716.8" stroke="#525252" stroke-width="1.0" stroke-dasharray="4.3 2.45"/><line x1="168.4" y1="632.5" x2="176.4" y2="632.5" stroke="#333333" stroke-width="1.3"/><line x1="168.4" y1="748.3" x2="176.4" y2="748.3" stroke="#333333" stroke-width="1.3"/><rect x="164.75" y="672.9" width="15.3" height="43.9" fill="none" stroke="#2020ff" stroke-width="1.05" stroke-linejoin="round"/><line x1="164.75" y1="699.5" x2="180.05" y2="699.5" stroke="#ff1a1a" stroke-width="1.2"/><line x1="203.29" y1="632.8" x2="203.29" y2="604.4" stroke="#525252" stroke-width="1.0" stroke-dasharray="4.3 2.45"/><line x1="203.29" y1="694.2" x2="203.29" y2="661.9" stroke="#525252" stroke-width="1.0" stroke-dasharray="4.3 2.45"/><line x1="199.29" y1="604.4" x2="207.29" y2="604.4" stroke="#333333" stroke-width="1.3"/><line x1="199.29" y1="694.2" x2="207.29" y2="694.2" stroke="#333333" stroke-width="1.3"/><rect x="195.64" y="632.8" width="15.3" height="29.1" fill="none" stroke="#2020ff" stroke-width="1.05" stroke-linejoin="round"/><line x1="195.64" y1="639.4" x2="210.94" y2="639.4" stroke="#ff1a1a" stroke-width="1.2"/><path d="M200.49 710.3H206.09M203.29 707.8V712.8" stroke="#ff0000" stroke-width="1.0"/><path d="M200.49 716.4H206.09M203.29 713.9V718.9" stroke="#ff0000" stroke-width="1.0"/><line x1="234.18" y1="747.9" x2="234.18" y2="730.9" stroke="#525252" stroke-width="1.0" stroke-dasharray="4.3 2.45"/><line x1="234.18" y1="772.6" x2="234.18" y2="761.6" stroke="#525252" stroke-width="1.0" stroke-dasharray="4.3 2.45"/><line x1="230.18" y1="730.9" x2="238.18" y2="730.9" stroke="#333333" stroke-width="1.3"/><line x1="230.18" y1="772.6" x2="238.18" y2="772.6" stroke="#333333" stroke-width="1.3"/><rect x="226.53" y="747.9" width="15.3" height="13.7" fill="none" stroke="#2020ff" stroke-width="1.05" stroke-linejoin="round"/><line x1="226.53" y1="753.4" x2="241.83" y2="753.4" stroke="#ff1a1a" stroke-width="1.2"/><line x1="265.07" y1="630" x2="265.07" y2="609.5" stroke="#525252" stroke-width="1.0" stroke-dasharray="4.3 2.45"/><line x1="265.07" y1="709.5" x2="265.07" y2="666.6" stroke="#525252" stroke-width="1.0" stroke-dasharray="4.3 2.45"/><line x1="261.07" y1="609.5" x2="269.07" y2="609.5" stroke="#333333" stroke-width="1.3"/><line x1="261.07" y1="709.5" x2="269.07" y2="709.5" stroke="#333333" stroke-width="1.3"/><rect x="257.42" y="630" width="15.3" height="36.6" fill="none" stroke="#2020ff" stroke-width="1.05" stroke-linejoin="round"/><line x1="257.42" y1="645.7" x2="272.72" y2="645.7" stroke="#ff1a1a" stroke-width="1.2"/><line x1="295.96" y1="619.3" x2="295.96" y2="590.5" stroke="#525252" stroke-width="1.0" stroke-dasharray="4.3 2.45"/><line x1="295.96" y1="690.9" x2="295.96" y2="657.8" stroke="#525252" stroke-width="1.0" stroke-dasharray="4.3 2.45"/><line x1="291.96" y1="590.5" x2="299.96" y2="590.5" stroke="#333333" stroke-width="1.3"/><line x1="291.96" y1="690.9" x2="299.96" y2="690.9" stroke="#333333" stroke-width="1.3"/><rect x="288.31" y="619.3" width="15.3" height="38.5" fill="none" stroke="#2020ff" stroke-width="1.05" stroke-linejoin="round"/><line x1="288.31" y1="642.4" x2="303.61" y2="642.4" stroke="#ff1a1a" stroke-width="1.2"/><path d="M293.16 724.6H298.76M295.96 722.1V727.1" stroke="#ff0000" stroke-width="1.0"/><rect x="33.4" y="576.6" width="278" height="212.1" fill="none" stroke="#2b2b2b" stroke-width="1.0"/><path d="M48.84 788.7v-3.0M48.84 576.6v3.0M79.73 788.7v-3.0M79.73 576.6v3.0M110.62 788.7v-3.0M110.62 576.6v3.0M141.51 788.7v-3.0M141.51 576.6v3.0M172.4 788.7v-3.0M172.4 576.6v3.0M203.29 788.7v-3.0M203.29 576.6v3.0M234.18 788.7v-3.0M234.18 576.6v3.0M265.07 788.7v-3.0M265.07 576.6v3.0M295.96 788.7v-3.0M295.96 576.6v3.0M33.4 771h3.0M311.4 771h-3.0M33.4 742.7h3.0M311.4 742.7h-3.0M33.4 714.4h3.0M311.4 714.4h-3.0M33.4 686.1h3.0M311.4 686.1h-3.0M33.4 657.8h3.0M311.4 657.8h-3.0M33.4 629.5h3.0M311.4 629.5h-3.0M33.4 601.2h3.0M311.4 601.2h-3.0" stroke="#2b2b2b" stroke-width="1.0" fill="none"/><text class="t" x="48.84" y="805.6" font-size="12" text-anchor="middle">1</text><text class="t" x="79.73" y="805.6" font-size="12" text-anchor="middle">2</text><text class="t" x="110.62" y="805.6" font-size="12" text-anchor="middle">3</text><text class="t" x="141.51" y="805.6" font-size="12" text-anchor="middle">4</text><text class="t" x="172.4" y="805.6" font-size="12" text-anchor="middle">5</text><text class="t" x="203.29" y="805.6" font-size="12" text-anchor="middle">6</text><text class="t" x="234.18" y="805.6" font-size="12" text-anchor="middle">7</text><text class="t" x="265.07" y="805.6" font-size="12" text-anchor="middle">8</text><text class="t" x="295.96" y="805.6" font-size="12" text-anchor="middle">9</text><text class="t" x="28.8" y="776" font-size="12" text-anchor="end">1</text><text class="t" x="28.8" y="747.7" font-size="12" text-anchor="end">2</text><text class="t" x="28.8" y="719.4" font-size="12" text-anchor="end">3</text><text class="t" x="28.8" y="691.1" font-size="12" text-anchor="end">4</text><text class="t" x="28.8" y="662.8" font-size="12" text-anchor="end">5</text><text class="t" x="28.8" y="634.5" font-size="12" text-anchor="end">6</text><text class="t" x="28.8" y="606.2" font-size="12" text-anchor="end">7</text><text class="t" x="172.4" y="822.5" font-size="13" text-anchor="middle">Algorithm number</text><text class="t" transform="translate(17 682.65) rotate(-90)" x="0" y="0" font-size="13" text-anchor="middle">PSP</text><text class="c" x="162.3" y="844.74" font-size="23.6" text-anchor="middle">(e)</text></g>
<g><line x1="412.16" y1="600.8" x2="412.16" y2="586.2" stroke="#525252" stroke-width="1.0" stroke-dasharray="4.3 2.45"/><line x1="412.16" y1="628.5" x2="412.16" y2="618.3" stroke="#525252" stroke-width="1.0" stroke-dasharray="4.3 2.45"/><line x1="408.16" y1="586.2" x2="416.16" y2="586.2" stroke="#333333" stroke-width="1.3"/><line x1="408.16" y1="628.5" x2="416.16" y2="628.5" stroke="#333333" stroke-width="1.3"/><rect x="404.51" y="600.8" width="15.3" height="17.5" fill="none" stroke="#2020ff" stroke-width="1.05" stroke-linejoin="round"/><line x1="404.51" y1="609.7" x2="419.81" y2="609.7" stroke="#ff1a1a" stroke-width="1.2"/><line x1="443.07" y1="708.7" x2="443.07" y2="666.4" stroke="#525252" stroke-width="1.0" stroke-dasharray="4.3 2.45"/><line x1="443.07" y1="765.5" x2="443.07" y2="739.3" stroke="#525252" stroke-width="1.0" stroke-dasharray="4.3 2.45"/><line x1="439.07" y1="666.4" x2="447.07" y2="666.4" stroke="#333333" stroke-width="1.3"/><line x1="439.07" y1="765.5" x2="447.07" y2="765.5" stroke="#333333" stroke-width="1.3"/><rect x="435.42" y="708.7" width="15.3" height="30.6" fill="none" stroke="#2020ff" stroke-width="1.05" stroke-linejoin="round"/><line x1="435.42" y1="722.4" x2="450.72" y2="722.4" stroke="#ff1a1a" stroke-width="1.2"/><line x1="473.98" y1="762.4" x2="473.98" y2="750.8" stroke="#525252" stroke-width="1.0" stroke-dasharray="4.3 2.45"/><line x1="473.98" y1="779.4" x2="473.98" y2="771.8" stroke="#525252" stroke-width="1.0" stroke-dasharray="4.3 2.45"/><line x1="469.98" y1="750.8" x2="477.98" y2="750.8" stroke="#333333" stroke-width="1.3"/><line x1="469.98" y1="779.4" x2="477.98" y2="779.4" stroke="#333333" stroke-width="1.3"/><rect x="466.33" y="762.4" width="15.3" height="9.4" fill="none" stroke="#2020ff" stroke-width="1.05" stroke-linejoin="round"/><line x1="466.33" y1="767.9" x2="481.63" y2="767.9" stroke="#ff1a1a" stroke-width="1.2"/><path d="M471.18 727.9H476.78M473.98 725.4V730.4" stroke="#ff0000" stroke-width="1.0"/><line x1="504.89" y1="723.4" x2="504.89" y2="698.4" stroke="#525252" stroke-width="1.0" stroke-dasharray="4.3 2.45"/><line x1="504.89" y1="759.5" x2="504.89" y2="755.9" stroke="#525252" stroke-width="1.0" stroke-dasharray="4.3 2.45"/><line x1="500.89" y1="698.4" x2="508.89" y2="698.4" stroke="#333333" stroke-width="1.3"/><line x1="500.89" y1="759.5" x2="508.89" y2="759.5" stroke="#333333" stroke-width="1.3"/><rect x="497.24" y="723.4" width="15.3" height="32.5" fill="none" stroke="#2020ff" stroke-width="1.05" stroke-linejoin="round"/><line x1="497.24" y1="744.4" x2="512.54" y2="744.4" stroke="#ff1a1a" stroke-width="1.2"/><path d="M502.09 672.7H507.69M504.89 670.2V675.2" stroke="#ff0000" stroke-width="1.0"/><line x1="535.8" y1="701.6" x2="535.8" y2="671.5" stroke="#525252" stroke-width="1.0" stroke-dasharray="4.3 2.45"/><line x1="535.8" y1="763.3" x2="535.8" y2="734.5" stroke="#525252" stroke-width="1.0" stroke-dasharray="4.3 2.45"/><line x1="531.8" y1="671.5" x2="539.8" y2="671.5" stroke="#333333" stroke-width="1.3"/><line x1="531.8" y1="763.3" x2="539.8" y2="763.3" stroke="#333333" stroke-width="1.3"/><rect x="528.15" y="701.6" width="15.3" height="32.9" fill="none" stroke="#2020ff" stroke-width="1.05" stroke-linejoin="round"/><line x1="528.15" y1="726.4" x2="543.45" y2="726.4" stroke="#ff1a1a" stroke-width="1.2"/><line x1="566.71" y1="636.3" x2="566.71" y2="608.9" stroke="#525252" stroke-width="1.0" stroke-dasharray="4.3 2.45"/><line x1="566.71" y1="686.2" x2="566.71" y2="663.7" stroke="#525252" stroke-width="1.0" stroke-dasharray="4.3 2.45"/><line x1="562.71" y1="608.9" x2="570.71" y2="608.9" stroke="#333333" stroke-width="1.3"/><line x1="562.71" y1="686.2" x2="570.71" y2="686.2" stroke="#333333" stroke-width="1.3"/><rect x="559.06" y="636.3" width="15.3" height="27.4" fill="none" stroke="#2020ff" stroke-width="1.05" stroke-linejoin="round"/><line x1="559.06" y1="657.2" x2="574.36" y2="657.2" stroke="#ff1a1a" stroke-width="1.2"/><path d="M563.91 716.4H569.51M566.71 713.9V718.9" stroke="#ff0000" stroke-width="1.0"/><path d="M563.91 720.5H569.51M566.71 718V723" stroke="#ff0000" stroke-width="1.0"/><path d="M563.91 737.7H569.51M566.71 735.2V740.2" stroke="#ff0000" stroke-width="1.0"/><line x1="597.62" y1="763.4" x2="597.62" y2="758.3" stroke="#525252" stroke-width="1.0" stroke-dasharray="4.3 2.45"/><line x1="597.62" y1="778" x2="597.62" y2="770.6" stroke="#525252" stroke-width="1.0" stroke-dasharray="4.3 2.45"/><line x1="593.62" y1="758.3" x2="601.62" y2="758.3" stroke="#333333" stroke-width="1.3"/><line x1="593.62" y1="778" x2="601.62" y2="778" stroke="#333333" stroke-width="1.3"/><rect x="589.97" y="763.4" width="15.3" height="7.2" fill="none" stroke="#2020ff" stroke-width="1.05" stroke-linejoin="round"/><line x1="589.97" y1="768.3" x2="605.27" y2="768.3" stroke="#ff1a1a" stroke-width="1.2"/><path d="M594.82 752.4H600.42M597.62 749.9V754.9" stroke="#ff0000" stroke-width="1.0"/><line x1="628.53" y1="676.6" x2="628.53" y2="632.4" stroke="#525252" stroke-width="1.0" stroke-dasharray="4.3 2.45"/><line x1="628.53" y1="766.3" x2="628.53" y2="716.2" stroke="#525252" stroke-width="1.0" stroke-dasharray="4.3 2.45"/><line x1="624.53" y1="632.4" x2="632.53" y2="632.4" stroke="#333333" stroke-width="1.3"/><line x1="624.53" y1="766.3" x2="632.53" y2="766.3" stroke="#333333" stroke-width="1.3"/><rect x="620.88" y="676.6" width="15.3" height="39.6" fill="none" stroke="#2020ff" stroke-width="1.05" stroke-linejoin="round"/><line x1="620.88" y1="703.3" x2="636.18" y2="703.3" stroke="#ff1a1a" stroke-width="1.2"/><line x1="659.44" y1="648.2" x2="659.44" y2="622.2" stroke="#525252" stroke-width="1.0" stroke-dasharray="4.3 2.45"/><line x1="659.44" y1="736.2" x2="659.44" y2="687.6" stroke="#525252" stroke-width="1.0" stroke-dasharray="4.3 2.45"/><line x1="655.44" y1="622.2" x2="663.44" y2="622.2" stroke="#333333" stroke-width="1.3"/><line x1="655.44" y1="736.2" x2="663.44" y2="736.2" stroke="#333333" stroke-width="1.3"/><rect x="651.79" y="648.2" width="15.3" height="39.4" fill="none" stroke="#2020ff" stroke-width="1.05" stroke-linejoin="round"/><line x1="651.79" y1="667.4" x2="667.09" y2="667.4" stroke="#ff1a1a" stroke-width="1.2"/><rect x="396.7" y="576.6" width="278.2" height="212.1" fill="none" stroke="#2b2b2b" stroke-width="1.0"/><path d="M412.16 788.7v-3.0M412.16 576.6v3.0M443.07 788.7v-3.0M443.07 576.6v3.0M473.98 788.7v-3.0M473.98 576.6v3.0M504.89 788.7v-3.0M504.89 576.6v3.0M535.8 788.7v-3.0M535.8 576.6v3.0M566.71 788.7v-3.0M566.71 576.6v3.0M597.62 788.7v-3.0M597.62 576.6v3.0M628.53 788.7v-3.0M628.53 576.6v3.0M659.44 788.7v-3.0M659.44 576.6v3.0M396.7 752.4h3.0M674.9 752.4h-3.0M396.7 705.73h3.0M674.9 705.73h-3.0M396.7 659.07h3.0M674.9 659.07h-3.0M396.7 612.4h3.0M674.9 612.4h-3.0" stroke="#2b2b2b" stroke-width="1.0" fill="none"/><text class="t" x="412.16" y="805.6" font-size="12" text-anchor="middle">1</text><text class="t" x="443.07" y="805.6" font-size="12" text-anchor="middle">2</text><text class="t" x="473.98" y="805.6" font-size="12" text-anchor="middle">3</text><text class="t" x="504.89" y="805.6" font-size="12" text-anchor="middle">4</text><text class="t" x="535.8" y="805.6" font-size="12" text-anchor="middle">5</text><text class="t" x="566.71" y="805.6" font-size="12" text-anchor="middle">6</text><text class="t" x="597.62" y="805.6" font-size="12" text-anchor="middle">7</text><text class="t" x="628.53" y="805.6" font-size="12" text-anchor="middle">8</text><text class="t" x="659.44" y="805.6" font-size="12" text-anchor="middle">9</text><text class="t" x="392.1" y="757.4" font-size="12" text-anchor="end">2</text><text class="t" x="392.1" y="710.73" font-size="12" text-anchor="end">4</text><text class="t" x="392.1" y="664.07" font-size="12" text-anchor="end">6</text><text class="t" x="392.1" y="617.4" font-size="12" text-anchor="end">8</text><text class="t" x="535.8" y="822.4" font-size="13" text-anchor="middle">Algorithm number</text><text class="t" transform="translate(379.8 682.65) rotate(-90)" x="0" y="0" font-size="13" text-anchor="middle">PSP</text><text class="c" x="525.4" y="844.54" font-size="23.6" text-anchor="middle">(f)</text></g>
<g><line x1="48.84" y1="918.3" x2="48.84" y2="896.9" stroke="#525252" stroke-width="1.0" stroke-dasharray="4.3 2.45"/><line x1="48.84" y1="962.3" x2="48.84" y2="944.1" stroke="#525252" stroke-width="1.0" stroke-dasharray="4.3 2.45"/><line x1="44.84" y1="896.9" x2="52.84" y2="896.9" stroke="#333333" stroke-width="1.3"/><line x1="44.84" y1="962.3" x2="52.84" y2="962.3" stroke="#333333" stroke-width="1.3"/><rect x="41.19" y="918.3" width="15.3" height="25.8" fill="none" stroke="#2020ff" stroke-width="1.05" stroke-linejoin="round"/><line x1="41.19" y1="930" x2="56.49" y2="930" stroke="#ff1a1a" stroke-width="1.2"/><path d="M46.04 876.6H51.64M48.84 874.1V879.1" stroke="#ff0000" stroke-width="1.0"/><line x1="79.73" y1="987.8" x2="79.73" y2="945.5" stroke="#525252" stroke-width="1.0" stroke-dasharray="4.3 2.45"/><line x1="79.73" y1="1059.2" x2="79.73" y2="1028.7" stroke="#525252" stroke-width="1.0" stroke-dasharray="4.3 2.45"/><line x1="75.73" y1="945.5" x2="83.73" y2="945.5" stroke="#333333" stroke-width="1.3"/><line x1="75.73" y1="1059.2" x2="83.73" y2="1059.2" stroke="#333333" stroke-width="1.3"/><rect x="72.08" y="987.8" width="15.3" height="40.9" fill="none" stroke="#2020ff" stroke-width="1.05" stroke-linejoin="round"/><line x1="72.08" y1="1011.7" x2="87.38" y2="1011.7" stroke="#ff1a1a" stroke-width="1.2"/><line x1="110.62" y1="1006.4" x2="110.62" y2="981.5" stroke="#525252" stroke-width="1.0" stroke-dasharray="4.3 2.45"/><line x1="110.62" y1="1069.4" x2="110.62" y2="1033.2" stroke="#525252" stroke-width="1.0" stroke-dasharray="4.3 2.45"/><line x1="106.62" y1="981.5" x2="114.62" y2="981.5" stroke="#333333" stroke-width="1.3"/><line x1="106.62" y1="1069.4" x2="114.62" y2="1069.4" stroke="#333333" stroke-width="1.3"/><rect x="102.97" y="1006.4" width="15.3" height="26.8" fill="none" stroke="#2020ff" stroke-width="1.05" stroke-linejoin="round"/><line x1="102.97" y1="1024" x2="118.27" y2="1024" stroke="#ff1a1a" stroke-width="1.2"/><line x1="141.51" y1="1002.5" x2="141.51" y2="969.4" stroke="#525252" stroke-width="1.0" stroke-dasharray="4.3 2.45"/><line x1="141.51" y1="1066.5" x2="141.51" y2="1046.1" stroke="#525252" stroke-width="1.0" stroke-dasharray="4.3 2.45"/><line x1="137.51" y1="969.4" x2="145.51" y2="969.4" stroke="#333333" stroke-width="1.3"/><line x1="137.51" y1="1066.5" x2="145.51" y2="1066.5" stroke="#333333" stroke-width="1.3"/><rect x="133.86" y="1002.5" width="15.3" height="43.6" fill="none" stroke="#2020ff" stroke-width="1.05" stroke-linejoin="round"/><line x1="133.86" y1="1031.2" x2="149.16" y2="1031.2" stroke="#ff1a1a" stroke-width="1.2"/><line x1="172.4" y1="1011.5" x2="172.4" y2="995.2" stroke="#525252" stroke-width="1.0" stroke-dasharray="4.3 2.45"/><line x1="172.4" y1="1056.5" x2="172.4" y2="1043.2" stroke="#525252" stroke-width="1.0" stroke-dasharray="4.3 2.45"/><line x1="168.4" y1="995.2" x2="176.4" y2="995.2" stroke="#333333" stroke-width="1.3"/><line x1="168.4" y1="1056.5" x2="176.4" y2="1056.5" stroke="#333333" stroke-width="1.3"/><rect x="164.75" y="1011.5" width="15.3" height="31.7" fill="none" stroke="#2020ff" stroke-width="1.05" stroke-linejoin="round"/><line x1="164.75" y1="1028.5" x2="180.05" y2="1028.5" stroke="#ff1a1a" stroke-width="1.2"/><line x1="203.29" y1="961.3" x2="203.29" y2="916.7" stroke="#525252" stroke-width="1.0" stroke-dasharray="4.3 2.45"/><line x1="203.29" y1="1027.1" x2="203.29" y2="999.1" stroke="#525252" stroke-width="1.0" stroke-dasharray="4.3 2.45"/><line x1="199.29" y1="916.7" x2="207.29" y2="916.7" stroke="#333333" stroke-width="1.3"/><line x1="199.29" y1="1027.1" x2="207.29" y2="1027.1" stroke="#333333" stroke-width="1.3"/><rect x="195.64" y="961.3" width="15.3" height="37.8" fill="none" stroke="#2020ff" stroke-width="1.05" stroke-linejoin="round"/><line x1="195.64" y1="974.3" x2="210.94" y2="974.3" stroke="#ff1a1a" stroke-width="1.2"/><line x1="234.18" y1="991.3" x2="234.18" y2="975.6" stroke="#525252" stroke-width="1.0" stroke-dasharray="4.3 2.45"/><line x1="234.18" y1="1063.9" x2="234.18" y2="1052.2" stroke="#525252" stroke-width="1.0" stroke-dasharray="4.3 2.45"/><line x1="230.18" y1="975.6" x2="238.18" y2="975.6" stroke="#333333" stroke-width="1.3"/><line x1="230.18" y1="1063.9" x2="238.18" y2="1063.9" stroke="#333333" stroke-width="1.3"/><rect x="226.53" y="991.3" width="15.3" height="60.9" fill="none" stroke="#2020ff" stroke-width="1.05" stroke-linejoin="round"/><line x1="226.53" y1="1023.8" x2="241.83" y2="1023.8" stroke="#ff1a1a" stroke-width="1.2"/><line x1="265.07" y1="936.3" x2="265.07" y2="902.4" stroke="#525252" stroke-width="1.0" stroke-dasharray="4.3 2.45"/><line x1="265.07" y1="1024.6" x2="265.07" y2="972.3" stroke="#525252" stroke-width="1.0" stroke-dasharray="4.3 2.45"/><line x1="261.07" y1="902.4" x2="269.07" y2="902.4" stroke="#333333" stroke-width="1.3"/><line x1="261.07" y1="1024.6" x2="269.07" y2="1024.6" stroke="#333333" stroke-width="1.3"/><rect x="257.42" y="936.3" width="15.3" height="36" fill="none" stroke="#2020ff" stroke-width="1.05" stroke-linejoin="round"/><line x1="257.42" y1="955.1" x2="272.72" y2="955.1" stroke="#ff1a1a" stroke-width="1.2"/><path d="M262.27 1035.9H267.87M265.07 1033.4V1038.4" stroke="#ff0000" stroke-width="1.0"/><path d="M262.27 1045H267.87M265.07 1042.5V1047.5" stroke="#ff0000" stroke-width="1.0"/><path d="M262.27 1058.3H267.87M265.07 1055.8V1060.8" stroke="#ff0000" stroke-width="1.0"/><line x1="295.96" y1="935.3" x2="295.96" y2="892.2" stroke="#525252" stroke-width="1.0" stroke-dasharray="4.3 2.45"/><line x1="295.96" y1="1013.4" x2="295.96" y2="977.4" stroke="#525252" stroke-width="1.0" stroke-dasharray="4.3 2.45"/><line x1="291.96" y1="892.2" x2="299.96" y2="892.2" stroke="#333333" stroke-width="1.3"/><line x1="291.96" y1="1013.4" x2="299.96" y2="1013.4" stroke="#333333" stroke-width="1.3"/><rect x="288.31" y="935.3" width="15.3" height="42.1" fill="none" stroke="#2020ff" stroke-width="1.05" stroke-linejoin="round"/><line x1="288.31" y1="950.4" x2="303.61" y2="950.4" stroke="#ff1a1a" stroke-width="1.2"/><rect x="33.4" y="867.2" width="278" height="212.1" fill="none" stroke="#2b2b2b" stroke-width="1.0"/><path d="M48.84 1079.3v-3.0M48.84 867.2v3.0M79.73 1079.3v-3.0M79.73 867.2v3.0M110.62 1079.3v-3.0M110.62 867.2v3.0M141.51 1079.3v-3.0M141.51 867.2v3.0M172.4 1079.3v-3.0M172.4 867.2v3.0M203.29 1079.3v-3.0M203.29 867.2v3.0M234.18 1079.3v-3.0M234.18 867.2v3.0M265.07 1079.3v-3.0M265.07 867.2v3.0M295.96 1079.3v-3.0M295.96 867.2v3.0M33.4 1048.3h3.0M311.4 1048.3h-3.0M33.4 1002.73h3.0M311.4 1002.73h-3.0M33.4 957.17h3.0M311.4 957.17h-3.0M33.4 911.6h3.0M311.4 911.6h-3.0" stroke="#2b2b2b" stroke-width="1.0" fill="none"/><text class="t" x="48.84" y="1096.2" font-size="12" text-anchor="middle">1</text><text class="t" x="79.73" y="1096.2" font-size="12" text-anchor="middle">2</text><text class="t" x="110.62" y="1096.2" font-size="12" text-anchor="middle">3</text><text class="t" x="141.51" y="1096.2" font-size="12" text-anchor="middle">4</text><text class="t" x="172.4" y="1096.2" font-size="12" text-anchor="middle">5</text><text class="t" x="203.29" y="1096.2" font-size="12" text-anchor="middle">6</text><text class="t" x="234.18" y="1096.2" font-size="12" text-anchor="middle">7</text><text class="t" x="265.07" y="1096.2" font-size="12" text-anchor="middle">8</text><text class="t" x="295.96" y="1096.2" font-size="12" text-anchor="middle">9</text><text class="t" x="28.8" y="1053.3" font-size="12" text-anchor="end">5</text><text class="t" x="28.8" y="1007.73" font-size="12" text-anchor="end">10</text><text class="t" x="28.8" y="962.17" font-size="12" text-anchor="end">15</text><text class="t" x="28.8" y="916.6" font-size="12" text-anchor="end">20</text><text class="t" x="172.4" y="1112" font-size="13" text-anchor="middle">Algorithm number</text><text class="t" transform="translate(10 973.25) rotate(-90)" x="0" y="0" font-size="13" text-anchor="middle">PSP</text><text class="c" x="161.9" y="1133.04" font-size="23.6" text-anchor="middle">(g)</text></g>
<g><line x1="412.24" y1="895.2" x2="412.24" y2="876.6" stroke="#525252" stroke-width="1.0" stroke-dasharray="4.3 2.45"/><line x1="412.24" y1="935.2" x2="412.24" y2="911.4" stroke="#525252" stroke-width="1.0" stroke-dasharray="4.3 2.45"/><line x1="408.24" y1="876.6" x2="416.24" y2="876.6" stroke="#333333" stroke-width="1.3"/><line x1="408.24" y1="935.2" x2="416.24" y2="935.2" stroke="#333333" stroke-width="1.3"/><rect x="404.59" y="895.2" width="15.3" height="16.2" fill="none" stroke="#2020ff" stroke-width="1.05" stroke-linejoin="round"/><line x1="404.59" y1="902.6" x2="419.89" y2="902.6" stroke="#ff1a1a" stroke-width="1.2"/><path d="M409.44 936.3H415.04M412.24 933.8V938.8" stroke="#ff0000" stroke-width="1.0"/><line x1="443.12" y1="1066.7" x2="443.12" y2="1065.7" stroke="#525252" stroke-width="1.0" stroke-dasharray="4.3 2.45"/><line x1="443.12" y1="1068.3" x2="443.12" y2="1067.5" stroke="#525252" stroke-width="1.0" stroke-dasharray="4.3 2.45"/><line x1="439.12" y1="1065.7" x2="447.12" y2="1065.7" stroke="#333333" stroke-width="1.3"/><line x1="439.12" y1="1068.3" x2="447.12" y2="1068.3" stroke="#333333" stroke-width="1.3"/><rect x="435.47" y="1066.7" width="15.3" height="0.8" fill="none" stroke="#2020ff" stroke-width="1.05" stroke-linejoin="round"/><line x1="435.47" y1="1067.1" x2="450.77" y2="1067.1" stroke="#ff1a1a" stroke-width="1.2" stroke-opacity="0.5"/><path d="M440.32 1046.4H445.92M443.12 1043.9V1048.9" stroke="#ff0000" stroke-width="1.0"/><path d="M440.32 1051.2H445.92M443.12 1048.7V1053.7" stroke="#ff0000" stroke-width="1.0"/><path d="M440.32 1053.4H445.92M443.12 1050.9V1055.9" stroke="#ff0000" stroke-width="1.0"/><path d="M440.32 1058.5H445.92M443.12 1056V1061" stroke="#ff0000" stroke-width="1.0"/><path d="M440.32 1060.4H445.92M443.12 1057.9V1062.9" stroke="#ff0000" stroke-width="1.0"/><path d="M440.32 1068.8H445.92M443.12 1066.3V1071.3" stroke="#ff0000" stroke-width="1.0"/><path d="M440.32 1069.5H445.92M443.12 1067V1072" stroke="#ff0000" stroke-width="1.0"/><line x1="473.99" y1="1066.4" x2="473.99" y2="1064.3" stroke="#525252" stroke-width="1.0" stroke-dasharray="4.3 2.45"/><line x1="473.99" y1="1069.3" x2="473.99" y2="1068.7" stroke="#525252" stroke-width="1.0" stroke-dasharray="4.3 2.45"/><line x1="469.99" y1="1064.3" x2="477.99" y2="1064.3" stroke="#333333" stroke-width="1.3"/><line x1="469.99" y1="1069.3" x2="477.99" y2="1069.3" stroke="#333333" stroke-width="1.3"/><rect x="466.34" y="1066.4" width="15.3" height="2.3" fill="none" stroke="#2020ff" stroke-width="1.05" stroke-linejoin="round"/><line x1="466.34" y1="1067.7" x2="481.64" y2="1067.7" stroke="#ff1a1a" stroke-width="1.2"/><path d="M471.19 1059.3H476.79M473.99 1056.8V1061.8" stroke="#ff0000" stroke-width="1.0"/><path d="M471.19 1062.9H476.79M473.99 1060.4V1065.4" stroke="#ff0000" stroke-width="1.0"/><line x1="504.87" y1="1058.3" x2="504.87" y2="1052.4" stroke="#525252" stroke-width="1.0" stroke-dasharray="4.3 2.45"/><line x1="504.87" y1="1068.6" x2="504.87" y2="1066.5" stroke="#525252" stroke-width="1.0" stroke-dasharray="4.3 2.45"/><line x1="500.87" y1="1052.4" x2="508.87" y2="1052.4" stroke="#333333" stroke-width="1.3"/><line x1="500.87" y1="1068.6" x2="508.87" y2="1068.6" stroke="#333333" stroke-width="1.3"/><rect x="497.22" y="1058.3" width="15.3" height="8.2" fill="none" stroke="#2020ff" stroke-width="1.05" stroke-linejoin="round"/><line x1="497.22" y1="1062.8" x2="512.52" y2="1062.8" stroke="#ff1a1a" stroke-width="1.2"/><line x1="535.75" y1="1036.9" x2="535.75" y2="1019.3" stroke="#525252" stroke-width="1.0" stroke-dasharray="4.3 2.45"/><line x1="535.75" y1="1058.3" x2="535.75" y2="1056.3" stroke="#525252" stroke-width="1.0" stroke-dasharray="4.3 2.45"/><line x1="531.75" y1="1019.3" x2="539.75" y2="1019.3" stroke="#333333" stroke-width="1.3"/><line x1="531.75" y1="1058.3" x2="539.75" y2="1058.3" stroke="#333333" stroke-width="1.3"/><rect x="528.1" y="1036.9" width="15.3" height="19.4" fill="none" stroke="#2020ff" stroke-width="1.05" stroke-linejoin="round"/><line x1="528.1" y1="1052.2" x2="543.4" y2="1052.2" stroke="#ff1a1a" stroke-width="1.2"/><path d="M532.95 987.4H538.55M535.75 984.9V989.9" stroke="#ff0000" stroke-width="1.0"/><line x1="566.63" y1="993.8" x2="566.63" y2="950.4" stroke="#525252" stroke-width="1.0" stroke-dasharray="4.3 2.45"/><line x1="562.63" y1="950.4" x2="570.63" y2="950.4" stroke="#333333" stroke-width="1.3"/><line x1="562.63" y1="1068.9" x2="570.63" y2="1068.9" stroke="#333333" stroke-width="1.3"/><rect x="558.98" y="993.8" width="15.3" height="75" fill="none" stroke="#2020ff" stroke-width="1.05" stroke-linejoin="round"/><line x1="558.98" y1="1044.2" x2="574.28" y2="1044.2" stroke="#ff1a1a" stroke-width="1.2"/><line x1="597.51" y1="1066.5" x2="597.51" y2="1063.2" stroke="#525252" stroke-width="1.0" stroke-dasharray="4.3 2.45"/><line x1="593.51" y1="1063.2" x2="601.51" y2="1063.2" stroke="#333333" stroke-width="1.3"/><line x1="593.51" y1="1069.4" x2="601.51" y2="1069.4" stroke="#333333" stroke-width="1.3"/><rect x="589.86" y="1066.5" width="15.3" height="2.7" fill="none" stroke="#2020ff" stroke-width="1.05" stroke-linejoin="round"/><line x1="589.86" y1="1068.8" x2="605.16" y2="1068.8" stroke="#ff1a1a" stroke-width="1.2"/><line x1="628.38" y1="1050.4" x2="628.38" y2="1040.4" stroke="#525252" stroke-width="1.0" stroke-dasharray="4.3 2.45"/><line x1="628.38" y1="1068.1" x2="628.38" y2="1067.3" stroke="#525252" stroke-width="1.0" stroke-dasharray="4.3 2.45"/><line x1="624.38" y1="1040.4" x2="632.38" y2="1040.4" stroke="#333333" stroke-width="1.3"/><line x1="624.38" y1="1068.1" x2="632.38" y2="1068.1" stroke="#333333" stroke-width="1.3"/><rect x="620.73" y="1050.4" width="15.3" height="16.9" fill="none" stroke="#2020ff" stroke-width="1.05" stroke-linejoin="round"/><line x1="620.73" y1="1058.7" x2="636.03" y2="1058.7" stroke="#ff1a1a" stroke-width="1.2"/><line x1="659.26" y1="1051.4" x2="659.26" y2="1043.4" stroke="#525252" stroke-width="1.0" stroke-dasharray="4.3 2.45"/><line x1="659.26" y1="1069" x2="659.26" y2="1065.3" stroke="#525252" stroke-width="1.0" stroke-dasharray="4.3 2.45"/><line x1="655.26" y1="1043.4" x2="663.26" y2="1043.4" stroke="#333333" stroke-width="1.3"/><line x1="655.26" y1="1069" x2="663.26" y2="1069" stroke="#333333" stroke-width="1.3"/><rect x="651.61" y="1051.4" width="15.3" height="13.9" fill="none" stroke="#2020ff" stroke-width="1.05" stroke-linejoin="round"/><line x1="651.61" y1="1058.1" x2="666.91" y2="1058.1" stroke="#ff1a1a" stroke-width="1.2"/><rect x="396.8" y="867.2" width="277.9" height="212.05" fill="none" stroke="#2b2b2b" stroke-width="1.0"/><path d="M412.24 1079.25v-3.0M412.24 867.2v3.0M443.12 1079.25v-3.0M443.12 867.2v3.0M473.99 1079.25v-3.0M473.99 867.2v3.0M504.87 1079.25v-3.0M504.87 867.2v3.0M535.75 1079.25v-3.0M535.75 867.2v3.0M566.63 1079.25v-3.0M566.63 867.2v3.0M597.51 1079.25v-3.0M597.51 867.2v3.0M628.38 1079.25v-3.0M628.38 867.2v3.0M659.26 1079.25v-3.0M659.26 867.2v3.0M396.8 1070h3.0M674.7 1070h-3.0M396.8 1032.26h3.0M674.7 1032.26h-3.0M396.8 994.52h3.0M674.7 994.52h-3.0M396.8 956.78h3.0M674.7 956.78h-3.0M396.8 919.04h3.0M674.7 919.04h-3.0M396.8 881.3h3.0M674.7 881.3h-3.0" stroke="#2b2b2b" stroke-width="1.0" fill="none"/><text class="t" x="412.24" y="1096.15" font-size="12" text-anchor="middle">1</text><text class="t" x="443.12" y="1096.15" font-size="12" text-anchor="middle">2</text><text class="t" x="473.99" y="1096.15" font-size="12" text-anchor="middle">3</text><text class="t" x="504.87" y="1096.15" font-size="12" text-anchor="middle">4</text><text class="t" x="535.75" y="1096.15" font-size="12" text-anchor="middle">5</text><text class="t" x="566.63" y="1096.15" font-size="12" text-anchor="middle">6</text><text class="t" x="597.51" y="1096.15" font-size="12" text-anchor="middle">7</text><text class="t" x="628.38" y="1096.15" font-size="12" text-anchor="middle">8</text><text class="t" x="659.26" y="1096.15" font-size="12" text-anchor="middle">9</text><text class="t" x="392.2" y="1075" font-size="12" text-anchor="end">0</text><text class="t" x="392.2" y="1037.26" font-size="12" text-anchor="end">2</text><text class="t" x="392.2" y="999.52" font-size="12" text-anchor="end">4</text><text class="t" x="392.2" y="961.78" font-size="12" text-anchor="end">6</text><text class="t" x="392.2" y="924.04" font-size="12" text-anchor="end">8</text><text class="t" x="392.2" y="886.3" font-size="12" text-anchor="end">10</text><text class="t" x="535.75" y="1111.95" font-size="13" text-anchor="middle">Algorithm number</text><text class="t" transform="translate(373.9 973.23) rotate(-90)" x="0" y="0" font-size="13" text-anchor="middle">PSP</text><text class="c" x="525.8" y="1133.14" font-size="23.6" text-anchor="middle">(h)</text></g>
</svg></body></html>
